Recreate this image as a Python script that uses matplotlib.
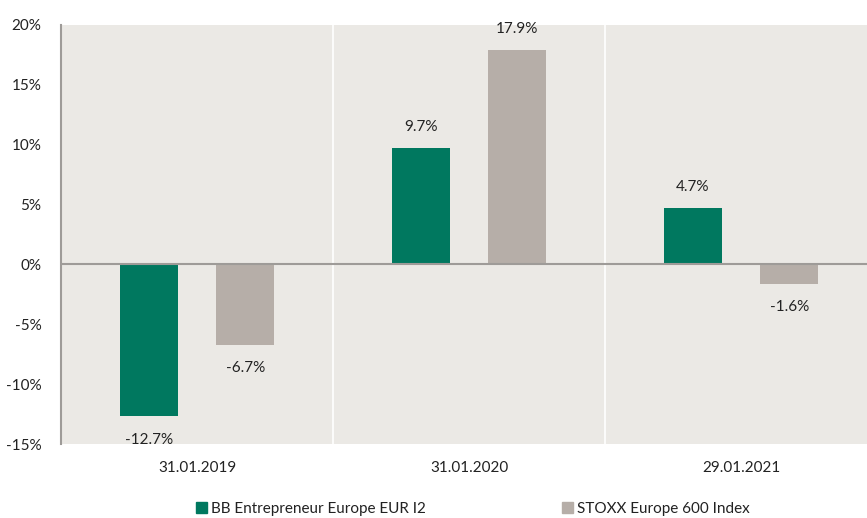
import numpy as np
import matplotlib.pyplot as plt
from matplotlib.patches import Patch

# Data
dates = ["31.01.2019", "31.01.2020", "29.01.2021"]
fund_name = "BB Entrepreneur Europe EUR I2"
index_name = "STOXX Europe 600 Index"
fund_values = [-12.7, 9.7, 4.7]
index_values = [-6.7, 17.9, -1.6]
y_ticks = [-15, -10, -5, 0, 5, 10, 15, 20]

GREEN = "#00785f"
GREY = "#b6aea8"
BG = "#ebe9e5"
TEXT = "#222222"
FS = 11

plt.rcParams['font.family'] = ['Lato', 'DejaVu Sans']

fig = plt.figure(figsize=(8.67, 5.18), dpi=100)
# axes runs past the right edge of the picture, as in the reference
ax = fig.add_axes([61 / 867, 1 - 444 / 518, (877 - 61) / 867, (444 - 25) / 518])
ax.set_facecolor(BG)

x = np.arange(len(dates))
width = 0.213
offset = 0.178

ax.bar(x - offset, fund_values, width, color=GREEN, zorder=3)
ax.bar(x + offset, index_values, width, color=GREY, zorder=3)

for xs, vals in ((x - offset, fund_values), (x + offset, index_values)):
    for xi, v in zip(xs, vals):
        dy = 1.8 if v >= 0 else -1.95
        ax.text(xi, v + dy, f"{v:.1f}%", ha="center", va="center",
                fontsize=FS, color=TEXT, zorder=4)

# white separators between the groups
for sep in (0.5, 1.5):
    ax.axvline(sep, color="white", lw=1.2, zorder=1)
ax.axhline(0, color="#9e9b98", lw=1.5, zorder=4)

ax.set_xlim(-0.5, 2.5)
ax.set_ylim(-15, 20)
ax.set_yticks(y_ticks)
ax.set_yticklabels([f"{t}%" for t in y_ticks], fontsize=FS, color=TEXT)
ax.set_xticks(x)
ax.set_xticklabels(dates, fontsize=FS, color=TEXT)
ax.tick_params(length=0, pad=14)
ax.tick_params(axis="x", pad=12)

for side in ("top", "right", "bottom"):
    ax.spines[side].set_visible(False)
ax.spines["left"].set_color("#9e9b98")
ax.spines["left"].set_linewidth(1.5)

handles = [Patch(color=GREEN, label=fund_name), Patch(color=GREY, label=index_name)]
fig.legend(handles=handles, loc="center", bbox_to_anchor=(473 / 867, 1 - 509 / 518),
           ncol=2, frameon=False, fontsize=FS, handlelength=0.72, handleheight=0.72,
           handletextpad=0.25, columnspacing=8.9, labelcolor=TEXT)

fig.savefig("out.png", dpi=100, facecolor="white")
